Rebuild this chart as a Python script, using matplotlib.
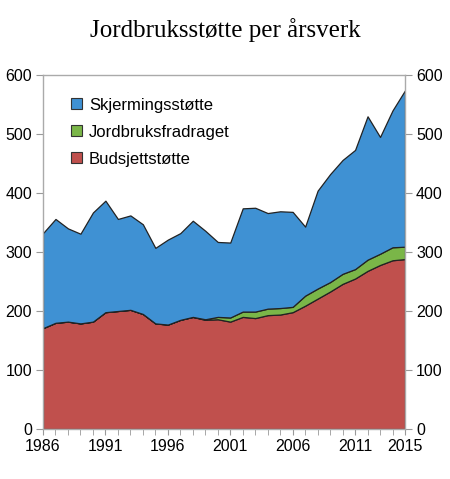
import matplotlib
matplotlib.use("Agg")
import matplotlib.pyplot as plt
from matplotlib.patches import Patch
from matplotlib.ticker import MultipleLocator

years = list(range(1986, 2016))
budsjett = [171, 180, 182, 179, 182, 198, 200, 202, 195, 179, 177, 185, 190, 185, 186,
            182, 190, 188, 193, 194, 198, 209, 221, 233, 246, 255, 268, 278, 286, 288]
fradrag = [0, 0, 0, 0, 0, 0, 0, 0, 0, 0, 0, 0, 0, 1, 4,
           7, 9, 11, 11, 11, 9, 17, 17, 16, 17, 16, 19, 19, 22, 21]
total = [332, 356, 340, 331, 367, 387, 356, 362, 347, 307, 321, 332, 353, 336, 317,
         316, 374, 375, 366, 369, 368, 343, 404, 432, 456, 473, 530, 495, 540, 574]
skjerming = [t - b - f for t, b, f in zip(total, budsjett, fradrag)]

labels = ["Budsjettstøtte", "Jordbruksfradraget", "Skjermingsstøtte"]
colors = ["#C0504D", "#7AB648", "#3F91D3"]
title = "Jordbruksstøtte per årsverk"

plt.rcParams['font.family'] = ['Liberation Sans', 'DejaVu Sans']

fig = plt.figure(figsize=(4.5, 4.79), dpi=100)
ax = fig.add_axes([43/450, 1-429/479, (405-43)/450, (429-75)/479])

polys = ax.stackplot(years, budsjett, fradrag, skjerming, colors=colors,
                     edgecolor="#222222", linewidth=0.9)

ax.set_xlim(1986, 2015)
ax.set_ylim(0, 600)
ax.set_xticks([1986, 1991, 1996, 2001, 2006, 2011, 2015])
ax.xaxis.set_minor_locator(MultipleLocator(1))
ax.yaxis.set_major_locator(MultipleLocator(100))
ax.tick_params(axis='both', which='both', direction='out', colors='#999999',
               labelcolor='black', labelsize=11.5)
ax.tick_params(axis='x', which='major', length=4, pad=3)
ax.tick_params(axis='x', which='minor', length=4)
ax.tick_params(axis='y', which='major', length=5, pad=3, right=True, labelright=True)
for s in ax.spines.values():
    s.set_color('#AAAAAA')
    s.set_linewidth(1.0)

handles = [Patch(facecolor=colors[i], edgecolor='#333333', linewidth=0.8, label=labels[i])
           for i in [2, 1, 0]]
ax.legend(handles=handles, loc='upper left', bbox_to_anchor=(0.06, 0.955), frameon=False,
          fontsize=12, handlelength=0.65, handleheight=0.65, handletextpad=0.4,
          labelspacing=0.72, borderaxespad=0)

fig.text(0.5, 1-30/479, title, ha='center', va='center', fontsize=18,
         family=['Liberation Serif', 'DejaVu Serif'])

fig.savefig("out.png", dpi=100)
